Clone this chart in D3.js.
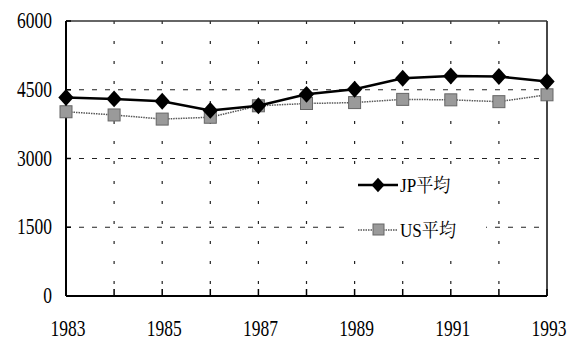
<!DOCTYPE html>
<html lang="ja">
<head>
<meta charset="UTF-8">
<title>JP / US</title>
<style>
  body { margin: 0; background: #fff; }
</style>
</head>
<body>
<svg id="chart" width="569" height="340"></svg>
<script src="https://d3js.org/d3.v7.min.js"></script>
<script>
// data
var years = [1983, 1984, 1985, 1986, 1987, 1988, 1989, 1990, 1991, 1992, 1993];
var jpAvg = [4330, 4300, 4250, 4050, 4150, 4400, 4510, 4750, 4800, 4790, 4680];
var usAvg = [4020, 3950, 3860, 3900, 4150, 4200, 4220, 4290, 4280, 4240, 4390];
var yTicks = [0, 1500, 3000, 4500, 6000];
var xLabels = [1983, 1985, 1987, 1989, 1991, 1993];
var seriesNames = ["JP平均", "US平均"];

var FONT = "Liberation Serif, Noto Serif CJK JP, serif";

var svg = d3.select("#chart");
// plot box (note: "top" is reserved on window, so use p* names)
var pLeft = 66, pRight = 547, pTop = 21, pBottom = 296;

var x = d3.scaleLinear().domain([1983, 1993]).range([pLeft, pRight]);
var y = d3.scaleLinear().domain([0, 6000]).range([pBottom, pTop]);

// grid
svg.append("g").selectAll("line")
  .data(yTicks.filter(function(d){ return d > 0 && d < 6000; }))
  .enter().append("line")
    .attr("x1", pLeft).attr("x2", pRight)
    .attr("y1", function(d){ return y(d); }).attr("y2", function(d){ return y(d); })
    .attr("stroke", "#222").attr("stroke-width", 1.2)
    .attr("stroke-dasharray", "5,8");

svg.append("g").selectAll("line")
  .data(years.slice(1, -1))
  .enter().append("line")
    .attr("x1", function(d){ return x(d); }).attr("x2", function(d){ return x(d); })
    .attr("y1", pTop).attr("y2", pBottom)
    .attr("stroke", "#222").attr("stroke-width", 1.2)
    .attr("stroke-dasharray", "3,17");

// frame
svg.append("line").attr("x1", pLeft).attr("x2", pRight).attr("y1", pTop).attr("y2", pTop)
  .attr("stroke", "#333").attr("stroke-width", 1.5);
svg.append("line").attr("x1", pRight).attr("x2", pRight).attr("y1", pTop).attr("y2", pBottom)
  .attr("stroke", "#333").attr("stroke-width", 1.8);

// axes
svg.append("line").attr("x1", pLeft).attr("x2", pLeft).attr("y1", pTop).attr("y2", pBottom)
  .attr("stroke", "#000").attr("stroke-width", 2);
svg.append("line").attr("x1", pLeft).attr("x2", pRight).attr("y1", pBottom).attr("y2", pBottom)
  .attr("stroke", "#000").attr("stroke-width", 2);

svg.append("g").selectAll("line")
  .data(years)
  .enter().append("line")
    .attr("x1", function(d){ return x(d); }).attr("x2", function(d){ return x(d); })
    .attr("y1", pBottom).attr("y2", pBottom - 7)
    .attr("stroke", "#000").attr("stroke-width", 1.5);

svg.append("g").selectAll("line")
  .data(yTicks)
  .enter().append("line")
    .attr("x1", pLeft).attr("x2", pLeft + 5)
    .attr("y1", function(d){ return y(d); }).attr("y2", function(d){ return y(d); })
    .attr("stroke", "#000").attr("stroke-width", 1.5);

// tick labels (condensed serif)
svg.append("g").selectAll("text")
  .data(yTicks)
  .enter().append("text")
    .attr("text-anchor", "end")
    .attr("font-family", FONT)
    .attr("font-size", 19)
    .attr("transform", function(d){ return "translate(52," + (y(d) + 7) + ") scale(0.92,1.2)"; })
    .text(function(d){ return d; });

svg.append("g").selectAll("text")
  .data(xLabels)
  .enter().append("text")
    .attr("text-anchor", "middle")
    .attr("font-family", FONT)
    .attr("font-size", 19)
    .attr("transform", function(d){ return "translate(" + (x(d) + 2) + ",336) scale(0.92,1.2)"; })
    .text(function(d){ return d; });

// legend backdrop
svg.append("rect").attr("x", 344).attr("y", 168).attr("width", 142).attr("height", 80)
  .attr("fill", "#fff");

var line = d3.line()
  .x(function(d, i){ return x(years[i]); })
  .y(function(d){ return y(d); });

// US series
svg.append("path").datum(usAvg)
  .attr("d", line).attr("fill", "none")
  .attr("stroke", "#555").attr("stroke-width", 1.5)
  .attr("stroke-dasharray", "1.5,1");

svg.append("g").selectAll("rect")
  .data(usAvg)
  .enter().append("rect")
    .attr("x", function(d, i){ return x(years[i]) - 6; })
    .attr("y", function(d){ return y(d) - 6; })
    .attr("width", 12).attr("height", 12)
    .attr("fill", "#9a9a9a").attr("stroke", "#666").attr("stroke-width", 1);

// JP series
svg.append("path").datum(jpAvg)
  .attr("d", line).attr("fill", "none")
  .attr("stroke", "#000").attr("stroke-width", 2.5);

var diamond = d3.symbol().type(d3.symbolDiamond2).size(150);
svg.append("g").selectAll("path")
  .data(jpAvg)
  .enter().append("path")
    .attr("d", diamond)
    .attr("transform", function(d, i){ return "translate(" + x(years[i]) + "," + y(d) + ") scale(1,1.1)"; })
    .attr("fill", "#000");

// legend
var lg = svg.append("g");
lg.append("line").attr("x1", 358).attr("x2", 398).attr("y1", 185).attr("y2", 185)
  .attr("stroke", "#000").attr("stroke-width", 2.5);
lg.append("path").attr("d", d3.symbol().type(d3.symbolDiamond2).size(110))
  .attr("transform", "translate(378,185) scale(1,1.1)").attr("fill", "#000");
lg.append("line").attr("x1", 358).attr("x2", 398).attr("y1", 230).attr("y2", 230)
  .attr("stroke", "#555").attr("stroke-width", 1.5).attr("stroke-dasharray", "1.5,1");
lg.append("rect").attr("x", 373).attr("y", 224).attr("width", 11).attr("height", 11)
  .attr("fill", "#9a9a9a").attr("stroke", "#666");

lg.selectAll("text.name")
  .data(seriesNames)
  .enter().append("text")
    .attr("class", "name")
    .attr("font-family", FONT)
    .attr("font-size", 18)
    .attr("transform", function(d, i){ return "translate(400," + (192 + i * 45) + ") scale(0.95,1.1)"; })
    .text(function(d){ return d; });
</script>
</body>
</html>
